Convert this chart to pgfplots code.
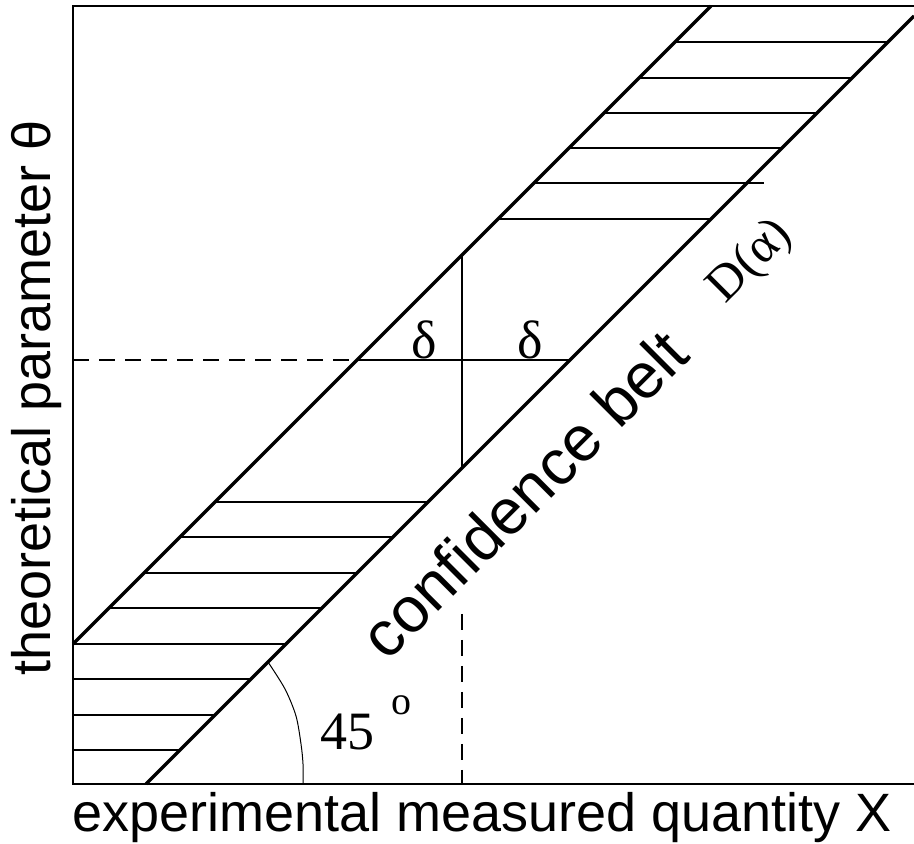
\documentclass[border=0pt]{standalone}
\usepackage{pgfplots}
\pgfplotsset{compat=1.18}
\usepackage{fontspec}
\setmainfont{Liberation Serif}
\newfontfamily\sansf{Liberation Sans}
\newfontfamily\seriff{Liberation Serif}
\begin{document}
\begin{tikzpicture}
\useasboundingbox (0,0) rectangle (457pt,422pt);
\begin{axis}[
  x=0.5pt, y=0.5pt,
  xmin=0, xmax=914, ymin=0, ymax=844,
  anchor=origin, at={(0,0)},
  hide axis, clip=false,
  unbounded coords=jump,
]
% frame (left, top, bottom)
\addplot[black, line width=1pt, line join=miter] coordinates {(914,60) (73,60) (73,838) (914,838)};
% belt boundaries (45 degrees)
\addplot[black, line width=1.7pt] coordinates {(73,200) (711,838)};
\addplot[black, line width=1.7pt] coordinates {(146,60) (914,828)};
% hatching, lower part
\addplot[black, line width=1pt] coordinates {
 (215,342) (428,342) (nan,nan)
 (179.5,306.5) (392.5,306.5) (nan,nan)
 (144,271) (357,271) (nan,nan)
 (108.5,235.5) (321.5,235.5) (nan,nan)
 (73,200) (286,200) (nan,nan)
 (73,164.5) (250.5,164.5) (nan,nan)
 (73,129) (215,129) (nan,nan)
 (73,93.5) (179.5,93.5)
};
% hatching, upper part
\addplot[black, line width=1pt] coordinates {
 (675,802) (888,802) (nan,nan)
 (639,766) (852,766) (nan,nan)
 (604,731) (817,731) (nan,nan)
 (569,696) (782,696) (nan,nan)
 (534,661) (764,661) (nan,nan)
 (498,625) (711,625)
};
% delta construction
\addplot[black, line width=1pt] coordinates {(357,484) (570,484)};
\addplot[black, line width=1pt, dash pattern=on 8pt off 5pt] coordinates {(73,484) (357,484)};
\addplot[black, line width=1pt] coordinates {(462,588) (462,376)};
\addplot[black, line width=1pt, dash pattern=on 8pt off 5pt] coordinates {(462,230) (462,60)};
% angle arc
\addplot[black, line width=0.5pt, smooth] coordinates {(268,182) (285,155) (296,128) (301,100) (303,80) (303,60)};
% labels
\node[font=\seriff\fontsize{27pt}{30pt}\selectfont, anchor=south, inner sep=0pt] at (axis cs:424,485) {δ};
\node[font=\seriff\fontsize{27pt}{30pt}\selectfont, anchor=south, inner sep=0pt] at (axis cs:530,485) {δ};
\node[font=\seriff\fontsize{27pt}{30pt}\selectfont, anchor=base, inner sep=0pt] at (axis cs:347,94) {45};
\node[font=\seriff\fontsize{20pt}{24pt}\selectfont, anchor=base, inner sep=0pt] at (axis cs:401,129) {o};
\node[font=\seriff\fontsize{25pt}{28pt}\selectfont, rotate=45, inner sep=0pt] at (axis cs:751,582) {D(α)};
\node[font=\sansf\fontsize{32pt}{36pt}\selectfont, rotate=45, inner sep=0pt] at (axis cs:524,350) {confidence belt};
\node[font=\sansf\fontsize{27pt}{30pt}\selectfont, anchor=base, inner sep=0pt] at (axis cs:482,12) {experimental measured quantity X};
\node[font=\sansf\fontsize{27pt}{30pt}\selectfont, anchor=base, rotate=90, inner sep=0pt] at (axis cs:50,446) {theoretical parameter θ};
\end{axis}
\end{tikzpicture}
\end{document}
